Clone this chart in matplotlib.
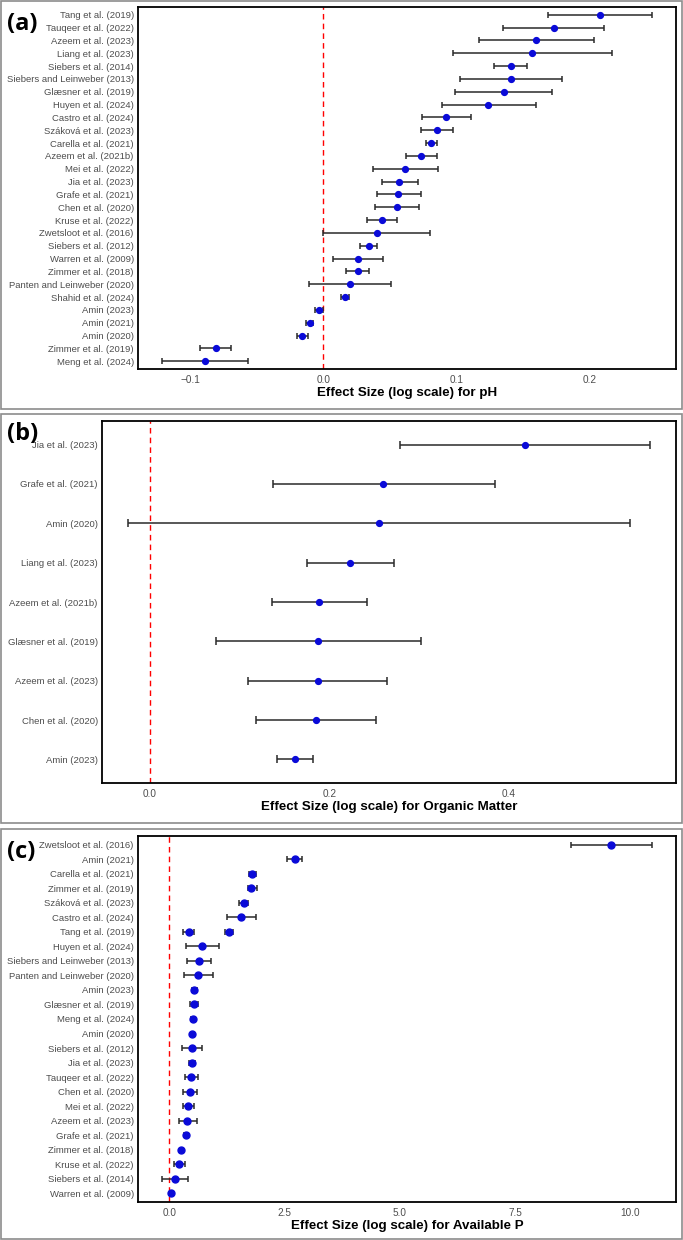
import matplotlib
matplotlib.use("Agg")
import matplotlib.pyplot as plt
from matplotlib.patches import Rectangle

plt.rcParams['font.family'] = ['Liberation Sans', 'DejaVu Sans']

# panel (a): pH, top to bottom
a_labels = ["Tang et al. (2019)", "Tauqeer et al. (2022)", "Azeem et al. (2023)", "Liang et al. (2023)",
            "Siebers et al. (2014)", "Siebers and Leinweber (2013)", "Glæsner et al. (2019)",
            "Huyen et al. (2024)", "Castro et al. (2024)", "Száková et al. (2023)", "Carella et al. (2021)",
            "Azeem et al. (2021b)", "Mei et al. (2022)", "Jia et al. (2023)", "Grafe et al. (2021)",
            "Chen et al. (2020)", "Kruse et al. (2022)", "Zwetsloot et al. (2016)", "Siebers et al. (2012)",
            "Warren et al. (2009)", "Zimmer et al. (2018)", "Panten and Leinweber (2020)",
            "Shahid et al. (2024)", "Amin (2023)", "Amin (2021)", "Amin (2020)", "Zimmer et al. (2019)",
            "Meng et al. (2024)"]
a_est = [0.2075, 0.173, 0.160, 0.157, 0.141, 0.141, 0.136, 0.124, 0.092, 0.085, 0.081, 0.073, 0.061,
         0.057, 0.056, 0.055, 0.044, 0.040, 0.034, 0.026, 0.026, 0.020, 0.016, -0.003, -0.010, -0.016,
         -0.081, -0.089]
a_lo = [0.169, 0.135, 0.117, 0.097, 0.1285, 0.103, 0.099, 0.089, 0.074, 0.073, 0.077, 0.062, 0.037,
        0.044, 0.040, 0.039, 0.033, 0.0, 0.0275, 0.0075, 0.017, -0.011, 0.013, -0.006, -0.013, -0.020,
        -0.093, -0.121]
a_hi = [0.2466, 0.211, 0.203, 0.217, 0.153, 0.179, 0.172, 0.160, 0.111, 0.097, 0.085, 0.085, 0.086,
        0.071, 0.073, 0.072, 0.055, 0.080, 0.040, 0.045, 0.034, 0.051, 0.019, 0.0, -0.0075, -0.0115,
        -0.0695, -0.057]

# panel (b): organic matter
b_labels = ["Jia et al. (2023)", "Grafe et al. (2021)", "Amin (2020)", "Liang et al. (2023)",
            "Azeem et al. (2021b)", "Glæsner et al. (2019)", "Azeem et al. (2023)", "Chen et al. (2020)",
            "Amin (2023)"]
b_est = [0.418, 0.260, 0.255, 0.223, 0.189, 0.188, 0.187, 0.185, 0.162]
b_lo = [0.279, 0.137, -0.024, 0.175, 0.136, 0.074, 0.110, 0.118, 0.142]
b_hi = [0.557, 0.385, 0.535, 0.272, 0.242, 0.302, 0.264, 0.252, 0.182]

# panel (c): available P (Tang et al. 2019 has two estimates on one row)
c_labels = ["Zwetsloot et al. (2016)", "Amin (2021)", "Carella et al. (2021)", "Zimmer et al. (2019)",
            "Száková et al. (2023)", "Castro et al. (2024)", "Tang et al. (2019)", "Tang et al. (2019)",
            "Huyen et al. (2024)", "Siebers and Leinweber (2013)", "Panten and Leinweber (2020)",
            "Amin (2023)", "Glæsner et al. (2019)", "Meng et al. (2024)", "Amin (2020)",
            "Siebers et al. (2012)", "Jia et al. (2023)", "Tauqeer et al. (2022)", "Chen et al. (2020)",
            "Mei et al. (2022)", "Azeem et al. (2023)", "Grafe et al. (2021)", "Zimmer et al. (2018)",
            "Kruse et al. (2022)", "Siebers et al. (2014)", "Warren et al. (2009)"]
c_est = [9.58, 2.72, 1.80, 1.78, 1.62, 1.55, 1.29, 0.42, 0.70, 0.64, 0.625, 0.54, 0.53, 0.51, 0.50,
         0.49, 0.49, 0.47, 0.44, 0.41, 0.39, 0.36, 0.26, 0.21, 0.12, 0.03]
c_lo = [8.71, 2.56, 1.72, 1.70, 1.52, 1.25, 1.20, 0.30, 0.35, 0.39, 0.32, 0.49, 0.45, 0.46, 0.47,
        0.27, 0.43, 0.34, 0.30, 0.29, 0.20, 0.31, 0.23, 0.10, -0.15, 0.01]
c_hi = [10.46, 2.88, 1.88, 1.90, 1.71, 1.875, 1.37, 0.54, 1.07, 0.91, 0.95, 0.59, 0.62, 0.56, 0.53,
        0.71, 0.56, 0.63, 0.61, 0.54, 0.61, 0.41, 0.29, 0.33, 0.41, 0.05]

W, H = 683, 1240
fig = plt.figure(figsize=(W / 100, H / 100), dpi=100)


def px_rect(left, top, right, bottom):
    return [left / W, 1 - bottom / H, (right - left) / W, (bottom - top) / H]


def forest(ax, labels, est, lo, hi, xlabel, capsize, ms):
    order = list(dict.fromkeys(labels))
    n = len(order)
    ys = [n - order.index(l) for l in labels]
    ax.axvline(0, color='red', ls=(0, (4, 3)), lw=1.0, zorder=1)
    err = [[e - l for e, l in zip(est, lo)], [h - e for e, h in zip(est, hi)]]
    ax.errorbar(est, ys, xerr=err, fmt='none', ecolor='#2a2a2a', elinewidth=1.1,
                capsize=capsize, capthick=1.1, zorder=2)
    ax.plot(est, ys, 'o', color='#0a0ad8', ms=ms, zorder=3)
    ax.margins(x=0.05)
    ax.set_ylim(0.4, n + 0.6)
    ax.set_yticks(range(n, 0, -1))
    ax.set_yticklabels(order)
    ax.tick_params(length=0, labelcolor='#4d4d4d', pad=3)
    ax.tick_params(axis='y', labelsize=6.8)
    ax.tick_params(axis='x', labelsize=7.2, pad=4)
    ax.set_xlabel(xlabel, fontsize=9.6, fontweight='bold', labelpad=2)
    for s in ax.spines.values():
        s.set_linewidth(1.3)
        s.set_color('black')
    return ax


# outer grey panel boxes
for top, bottom in [(1, 409), (414, 823), (829, 1239)]:
    fig.patches.append(Rectangle((0.5 / W, 1 - bottom / H), (W - 2) / W, (bottom - top) / H,
                                 transform=fig.transFigure, fill=False, ec='#8c8c8c', lw=1.2))

ax_a = fig.add_axes(px_rect(138, 7, 676, 369))
ax_a.set_xticks([-0.1, 0.0, 0.1, 0.2])
ax_a.set_xticklabels(["\u22120.1", "0.0", "0.1", "0.2"])
forest(ax_a, a_labels, a_est, a_lo, a_hi, "Effect Size (log scale) for pH", 2, 4.2)

ax_b = fig.add_axes(px_rect(102, 421, 676, 783))
ax_b.set_xticks([0.0, 0.2, 0.4])
ax_b.set_xticklabels(["0.0", "0.2", "0.4"])
forest(ax_b, b_labels, b_est, b_lo, b_hi, "Effect Size (log scale) for Organic Matter", 3.2, 4.2)

ax_c = fig.add_axes(px_rect(138, 836, 676, 1202))
ax_c.set_xticks([0.0, 2.5, 5.0, 7.5, 10.0])
ax_c.set_xticklabels(["0.0", "2.5", "5.0", "7.5", "10.0"])
forest(ax_c, c_labels, c_est, c_lo, c_hi, "Effect Size (log scale) for Available P", 2, 5.0)

for tag, y in [("(a)", 30), ("(b)", 440), ("(c)", 858)]:
    fig.text(7 / W, 1 - y / H, tag, fontsize=17, fontweight='bold', family=['Open Sans', 'DejaVu Sans'],
             va='baseline', ha='left')

fig.savefig("out.png", dpi=100)
